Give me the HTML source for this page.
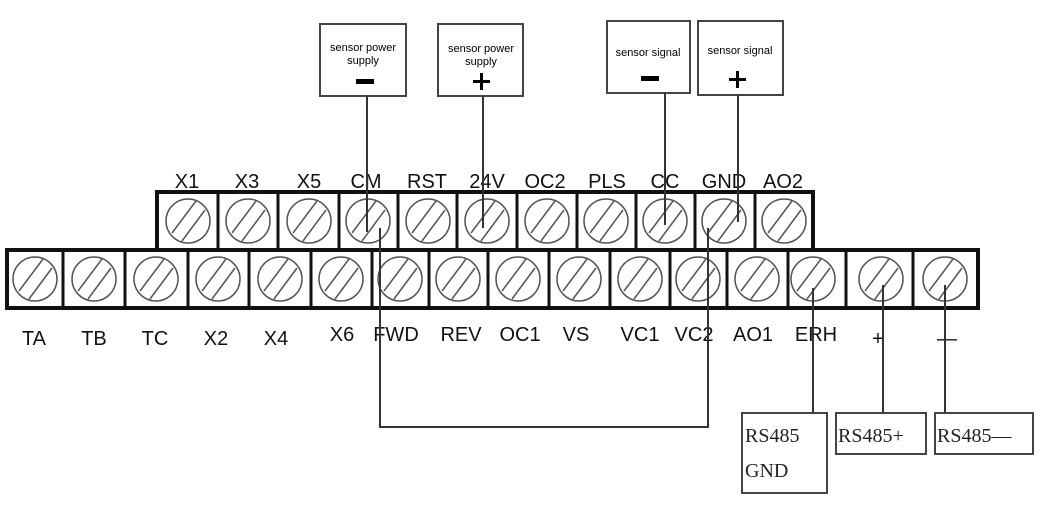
<!DOCTYPE html>
<html><head><meta charset="utf-8"><style>
html,body{margin:0;padding:0;background:#fff;}
svg{display:block;}
</style></head><body>
<svg width="1063" height="525" viewBox="0 0 1063 525" xmlns="http://www.w3.org/2000/svg" font-family="Liberation Sans, sans-serif">
<rect width="1063" height="525" fill="#fff"/>
<g id="top" fill="none" stroke="#111">
<rect x="157" y="192" width="656" height="58" stroke-width="4"/>
</g>
<g fill="none" stroke="#111" stroke-width="3">
<line x1="218" y1="192" x2="218" y2="250"/><line x1="278" y1="192" x2="278" y2="250"/><line x1="339" y1="192" x2="339" y2="250"/><line x1="398" y1="192" x2="398" y2="250"/><line x1="457" y1="192" x2="457" y2="250"/><line x1="517" y1="192" x2="517" y2="250"/><line x1="577" y1="192" x2="577" y2="250"/><line x1="636" y1="192" x2="636" y2="250"/><line x1="695" y1="192" x2="695" y2="250"/><line x1="755" y1="192" x2="755" y2="250"/>
</g>
<rect x="7" y="250" width="971" height="58" fill="none" stroke="#111" stroke-width="4"/>
<g stroke="#111" stroke-width="3">
<line x1="63" y1="250" x2="63" y2="308"/><line x1="125" y1="250" x2="125" y2="308"/><line x1="188" y1="250" x2="188" y2="308"/><line x1="249" y1="250" x2="249" y2="308"/><line x1="311" y1="250" x2="311" y2="308"/><line x1="372" y1="250" x2="372" y2="308"/><line x1="429" y1="250" x2="429" y2="308"/><line x1="488" y1="250" x2="488" y2="308"/><line x1="549" y1="250" x2="549" y2="308"/><line x1="610" y1="250" x2="610" y2="308"/><line x1="670" y1="250" x2="670" y2="308"/><line x1="727" y1="250" x2="727" y2="308"/><line x1="788" y1="250" x2="788" y2="308"/><line x1="846" y1="250" x2="846" y2="308"/><line x1="913" y1="250" x2="913" y2="308"/>
</g>
<g fill="none" stroke="#555" stroke-width="1.5">
<!-- top circles -->
<g transform="translate(188,221)"><circle r="22"/><line x1="-16" y1="12" x2="8" y2="-20"/><line x1="-6" y1="20" x2="17" y2="-11"/></g>
<g transform="translate(248,221)"><circle r="22"/><line x1="-16" y1="12" x2="8" y2="-20"/><line x1="-6" y1="20" x2="17" y2="-11"/></g>
<g transform="translate(309,221)"><circle r="22"/><line x1="-16" y1="12" x2="8" y2="-20"/><line x1="-6" y1="20" x2="17" y2="-11"/></g>
<g transform="translate(368,221)"><circle r="22"/><line x1="-16" y1="12" x2="8" y2="-20"/><line x1="-6" y1="20" x2="17" y2="-11"/></g>
<g transform="translate(428,221)"><circle r="22"/><line x1="-16" y1="12" x2="8" y2="-20"/><line x1="-6" y1="20" x2="17" y2="-11"/></g>
<g transform="translate(487,221)"><circle r="22"/><line x1="-16" y1="12" x2="8" y2="-20"/><line x1="-6" y1="20" x2="17" y2="-11"/></g>
<g transform="translate(547,221)"><circle r="22"/><line x1="-16" y1="12" x2="8" y2="-20"/><line x1="-6" y1="20" x2="17" y2="-11"/></g>
<g transform="translate(606,221)"><circle r="22"/><line x1="-16" y1="12" x2="8" y2="-20"/><line x1="-6" y1="20" x2="17" y2="-11"/></g>
<g transform="translate(665,221)"><circle r="22"/><line x1="-16" y1="12" x2="8" y2="-20"/><line x1="-6" y1="20" x2="17" y2="-11"/></g>
<g transform="translate(724,221)"><circle r="22"/><line x1="-16" y1="12" x2="8" y2="-20"/><line x1="-6" y1="20" x2="17" y2="-11"/></g>
<g transform="translate(784,221)"><circle r="22"/><line x1="-16" y1="12" x2="8" y2="-20"/><line x1="-6" y1="20" x2="17" y2="-11"/></g>
<!-- bottom circles -->
<g transform="translate(35,279)"><circle r="22"/><line x1="-16" y1="12" x2="8" y2="-20"/><line x1="-6" y1="20" x2="17" y2="-11"/></g>
<g transform="translate(94,279)"><circle r="22"/><line x1="-16" y1="12" x2="8" y2="-20"/><line x1="-6" y1="20" x2="17" y2="-11"/></g>
<g transform="translate(156,279)"><circle r="22"/><line x1="-16" y1="12" x2="8" y2="-20"/><line x1="-6" y1="20" x2="17" y2="-11"/></g>
<g transform="translate(218,279)"><circle r="22"/><line x1="-16" y1="12" x2="8" y2="-20"/><line x1="-6" y1="20" x2="17" y2="-11"/></g>
<g transform="translate(280,279)"><circle r="22"/><line x1="-16" y1="12" x2="8" y2="-20"/><line x1="-6" y1="20" x2="17" y2="-11"/></g>
<g transform="translate(341,279)"><circle r="22"/><line x1="-16" y1="12" x2="8" y2="-20"/><line x1="-6" y1="20" x2="17" y2="-11"/></g>
<g transform="translate(400,279)"><circle r="22"/><line x1="-16" y1="12" x2="8" y2="-20"/><line x1="-6" y1="20" x2="17" y2="-11"/></g>
<g transform="translate(458,279)"><circle r="22"/><line x1="-16" y1="12" x2="8" y2="-20"/><line x1="-6" y1="20" x2="17" y2="-11"/></g>
<g transform="translate(518,279)"><circle r="22"/><line x1="-16" y1="12" x2="8" y2="-20"/><line x1="-6" y1="20" x2="17" y2="-11"/></g>
<g transform="translate(579,279)"><circle r="22"/><line x1="-16" y1="12" x2="8" y2="-20"/><line x1="-6" y1="20" x2="17" y2="-11"/></g>
<g transform="translate(640,279)"><circle r="22"/><line x1="-16" y1="12" x2="8" y2="-20"/><line x1="-6" y1="20" x2="17" y2="-11"/></g>
<g transform="translate(698,279)"><circle r="22"/><line x1="-16" y1="12" x2="8" y2="-20"/><line x1="-6" y1="20" x2="17" y2="-11"/></g>
<g transform="translate(757,279)"><circle r="22"/><line x1="-16" y1="12" x2="8" y2="-20"/><line x1="-6" y1="20" x2="17" y2="-11"/></g>
<g transform="translate(813,279)"><circle r="22"/><line x1="-16" y1="12" x2="8" y2="-20"/><line x1="-6" y1="20" x2="17" y2="-11"/></g>
<g transform="translate(881,279)"><circle r="22"/><line x1="-16" y1="12" x2="8" y2="-20"/><line x1="-6" y1="20" x2="17" y2="-11"/></g>
<g transform="translate(945,279)"><circle r="22"/><line x1="-16" y1="12" x2="8" y2="-20"/><line x1="-6" y1="20" x2="17" y2="-11"/></g>
</g>
<g font-size="20" fill="#111" text-anchor="middle">
<text x="187" y="188">X1</text><text x="247" y="188">X3</text><text x="309" y="188">X5</text><text x="366" y="188">CM</text><text x="427" y="188">RST</text><text x="487" y="188">24V</text><text x="545" y="188">OC2</text><text x="607" y="188">PLS</text><text x="665" y="188">CC</text><text x="724" y="188">GND</text><text x="783" y="188">AO2</text>
<text x="34" y="345">TA</text><text x="94" y="345">TB</text><text x="155" y="345">TC</text><text x="216" y="345">X2</text><text x="276" y="345">X4</text><text x="342" y="341">X6</text><text x="396" y="341">FWD</text><text x="461" y="341">REV</text><text x="520" y="341">OC1</text><text x="576" y="341">VS</text><text x="640" y="341">VC1</text><text x="694" y="341">VC2</text><text x="753" y="341">AO1</text><text x="816" y="341">ERH</text>
<text x="878" y="345">+</text><text x="947" y="345">—</text>
</g>
<g fill="#fff" stroke="#444" stroke-width="2">
<rect x="320" y="24" width="86" height="72"/><rect x="438" y="24" width="85" height="72"/><rect x="607" y="21" width="83" height="72"/><rect x="698" y="21" width="85" height="74"/>
</g>
<g font-size="11" fill="#000" text-anchor="middle">
<text x="363" y="51">sensor power</text><text x="363" y="64">supply</text>
<text x="481" y="52">sensor power</text><text x="481" y="65">supply</text>
<text x="648" y="56">sensor signal</text><text x="740" y="54">sensor signal</text>
</g>
<g fill="#000"><rect x="356" y="79" width="18" height="5"/><rect x="641" y="76" width="18" height="5"/>
<rect x="473" y="80" width="17" height="3"/><rect x="480" y="73" width="3" height="17"/>
<rect x="729" y="78" width="17" height="3"/><rect x="736" y="71" width="3" height="17"/></g>
<g stroke="#333" stroke-width="2" fill="none">
<line x1="367" y1="96" x2="367" y2="232"/>
<line x1="483" y1="96" x2="483" y2="228"/>
<line x1="665" y1="93" x2="665" y2="225"/>
<line x1="738" y1="95" x2="738" y2="222"/>
<polyline points="380,228 380,427 708,427 708,228"/>
<line x1="813" y1="288" x2="813" y2="413"/>
<line x1="883" y1="285" x2="883" y2="413"/>
<line x1="945" y1="285" x2="945" y2="413"/>
</g>
<g fill="#fff" stroke="#444" stroke-width="2">
<rect x="742" y="413" width="85" height="80"/><rect x="836" y="413" width="90" height="41"/><rect x="935" y="413" width="98" height="41"/>
</g>
<g font-family="Liberation Serif, serif" font-size="20" fill="#222">
<text x="745" y="442">RS485</text><text x="745" y="477">GND</text>
<text x="838" y="442">RS485+</text><text x="937" y="442">RS485—</text>
</g>
</svg>
</body></html>
